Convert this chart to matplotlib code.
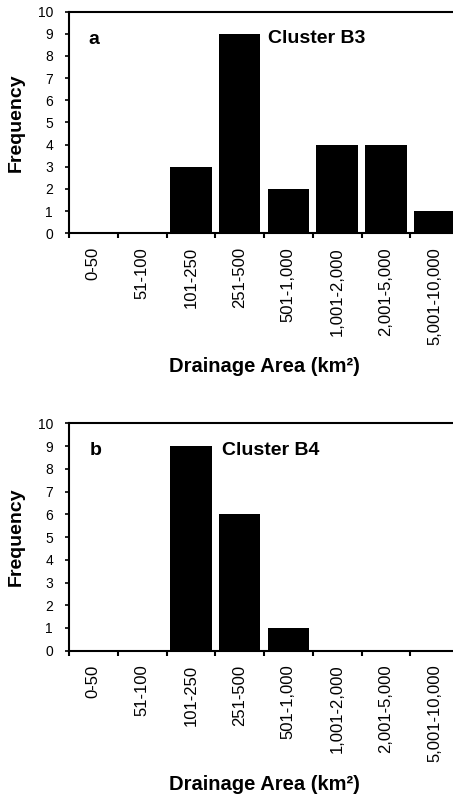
import matplotlib
matplotlib.use("Agg")
import matplotlib.pyplot as plt

plt.rcParams['font.family'] = ['Liberation Sans', 'DejaVu Sans']

# classes de area de drenagem
classes = ["0-50", "51-100", "101-250", "251-500", "501-1,000",
           "1,001-2,000", "2,001-5,000", "5,001-10,000"]

# frequencias
freq_b3 = [0, 0, 3, 9, 2, 4, 4, 1]
freq_b4 = [0, 0, 9, 6, 1, 0, 0, 0]

paineis = [
    ("a", "Cluster B3", freq_b3),
    ("b", "Cluster B4", freq_b4),
]

# posicoes dos eixos em fracao da figura (o lado direito sai da figura)
posicoes = [
    [69/453, 1 - 233.3/801, 390/453, 221.7/801],
    [69/453, 1 - 650.7/801, 390/453, 227.3/801],
]
letra_pos = [(0.0, 8.75), (0.05, 8.8)]
cluster_pos = [(3.58, 8.8), (2.64, 8.8)]
xlabel_y = [-0.56, -0.548]

fig = plt.figure(figsize=(4.53, 8.01), dpi=100)

for i, (letra, nome, freq) in enumerate(paineis):
    ax = fig.add_axes(posicoes[i])
    x = list(range(len(classes)))
    ax.bar(x, freq, width=0.855, color="black", edgecolor="none")

    ax.set_xlim(-0.5, len(classes) - 0.5)
    ax.set_ylim(0, 10)
    ax.set_yticks(range(0, 11))

    # tracos nas fronteiras das classes, rotulos no centro
    ax.set_xticks([k - 0.5 for k in range(len(classes) + 1)])
    ax.set_xticklabels([])
    ax.set_xticks(x, minor=True)
    ax.set_xticklabels(classes, minor=True, rotation=90, fontsize=12)
    ax.tick_params(axis="x", which="major", direction="out", length=3.6, width=1.5)
    ax.tick_params(axis="x", which="minor", length=0, pad=10)
    ax.tick_params(axis="y", direction="out", length=3, width=1.2, pad=8.5,
                   labelsize=10)

    for lado in ["left", "bottom", "top"]:
        ax.spines[lado].set_linewidth(1.5)
    ax.spines["right"].set_visible(False)

    ax.set_ylabel("Frequency", fontsize=14, fontweight="bold")
    ax.yaxis.set_label_coords(-0.113, 0.5)
    ax.set_xlabel("Drainage Area (km²)", fontsize=14.5, fontweight="bold", va="top")
    ax.xaxis.set_label_coords(0.5, xlabel_y[i])

    ax.text(letra_pos[i][0], letra_pos[i][1], letra, fontsize=14,
            fontweight="bold", ha="center", va="center")
    ax.text(cluster_pos[i][0], cluster_pos[i][1], nome, fontsize=14,
            fontweight="bold", ha="left", va="center")

fig.savefig("out.png", dpi=100)
